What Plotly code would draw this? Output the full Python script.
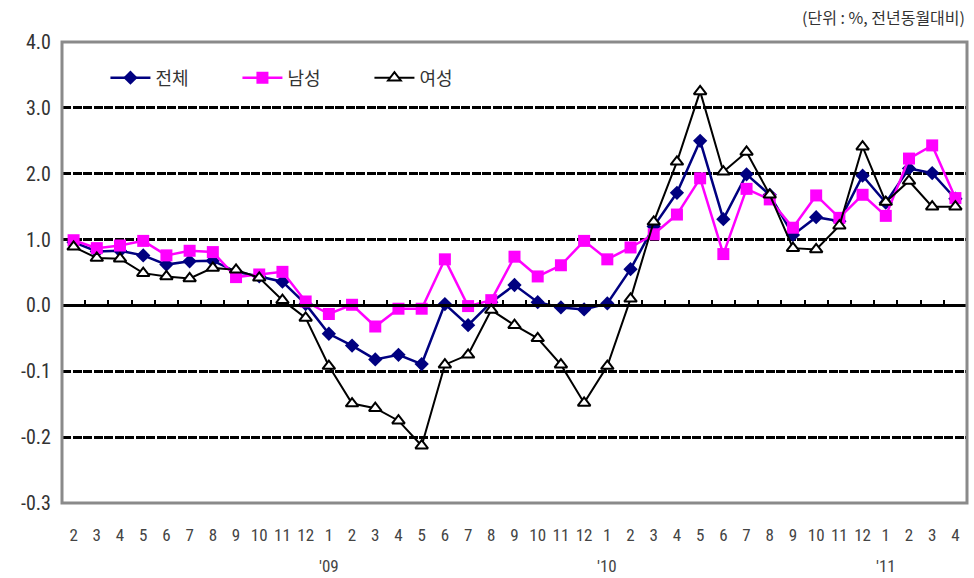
import numpy as np
import plotly.graph_objects as go

# Months from Feb 2008 to Apr 2011
months = ["2", "3", "4", "5", "6", "7", "8", "9", "10", "11", "12",
          "1", "2", "3", "4", "5", "6", "7", "8", "9", "10", "11", "12",
          "1", "2", "3", "4", "5", "6", "7", "8", "9", "10", "11", "12",
          "1", "2", "3", "4"]
year_marks = {11: "'09", 23: "'10", 35: "'11"}

total = [0.96, 0.82, 0.83, 0.76, 0.62, 0.67, 0.68, 0.51, 0.44, 0.36, 0.02,
         -0.43, -0.61, -0.82, -0.75, -0.89, 0.02, -0.30, 0.05, 0.31, 0.05, -0.03, -0.06,
         0.03, 0.55, 1.20, 1.71, 2.50, 1.31, 1.99, 1.68, 1.07, 1.34, 1.28, 1.97,
         1.56, 2.08, 2.01, 1.62]
male = [0.99, 0.87, 0.91, 0.98, 0.76, 0.83, 0.81, 0.43, 0.47, 0.51, 0.06,
        -0.13, 0.01, -0.32, -0.05, -0.05, 0.70, -0.01, 0.08, 0.74, 0.44, 0.61, 0.98,
        0.70, 0.88, 1.08, 1.38, 1.93, 0.78, 1.77, 1.61, 1.18, 1.67, 1.33, 1.68,
        1.36, 2.23, 2.43, 1.63]
female = [0.89, 0.72, 0.71, 0.49, 0.44, 0.41, 0.57, 0.54, 0.42, 0.08, -0.19,
          -0.92, -1.49, -1.56, -1.75, -2.13, -0.90, -0.75, -0.07, -0.30, -0.50, -0.90, -1.48,
          -0.92, 0.10, 1.27, 2.18, 3.25, 2.03, 2.33, 1.68, 0.87, 0.85, 1.21, 2.41,
          1.57, 1.89, 1.50, 1.50]

y_ticks = [-3, -2, -1, 0, 1, 2, 3, 4]
y_tick_text = ["-0.3", "-0.2", "-0.1", "0.0", "1.0", "2.0", "3.0", "4.0"]

x = np.arange(len(months))
xr = [-0.5, len(months) - 0.5]

KR = "Noto Sans CJK KR, Noto Sans, sans-serif"
NUM = "Liberation Sans Narrow, Roboto Condensed, Liberation Sans, sans-serif"

fig = go.Figure()
fig.add_trace(go.Scatter(
    x=x, y=total, name="전체", mode="lines+markers",
    line=dict(color="#000080", width=2.5),
    marker=dict(symbol="diamond", size=11, color="#000080"),
))
fig.add_trace(go.Scatter(
    x=x, y=male, name="남성", mode="lines+markers",
    line=dict(color="#FF00FF", width=2.5),
    marker=dict(symbol="square", size=12, color="#FF00FF"),
))
fig.add_trace(go.Scatter(
    x=x, y=female, name="여성", mode="lines+markers",
    line=dict(color="#000000", width=2),
    marker=dict(symbol="triangle-up", size=11, color="white",
                line=dict(color="#000000", width=2)),
))
# helper trace so the zero-line axis (ticks between months) gets drawn
fig.add_trace(go.Scatter(x=x, y=total, mode="none", xaxis="x2",
                         showlegend=False, hoverinfo="skip"))

annotations = [
    dict(text="(단위 : %, 전년동월대비)", xref="paper", yref="paper",
         x=1.0, y=1.055, xanchor="right", yanchor="middle", showarrow=False,
         font=dict(family=KR, size=16, color="#333333")),
]
for i, lab in year_marks.items():
    annotations.append(dict(text=lab, xref="x", yref="paper", x=i, y=-0.137,
                            xanchor="center", yanchor="middle", showarrow=False,
                            font=dict(family=NUM, size=17, color="#444444")))

fig.update_layout(
    width=974, height=578,
    margin=dict(l=62, r=7, t=42, b=75),
    paper_bgcolor="white", plot_bgcolor="white",
    showlegend=True,
    legend=dict(orientation="h", x=0.048, y=0.922, xanchor="left", yanchor="middle",
                bgcolor="rgba(0,0,0,0)", font=dict(family=KR, size=18, color="#333333"),
                entrywidth=77, entrywidthmode="pixels", itemwidth=40),
    xaxis=dict(range=xr, tickmode="array", tickvals=x, ticktext=months,
               showgrid=False, zeroline=False, showline=False, ticks="",
               ticklabelstandoff=20,
               tickfont=dict(family=NUM, size=17, color="#444444")),
    xaxis2=dict(range=xr, overlaying="x", anchor="free", position=3 / 7,
                side="bottom", showline=True, linecolor="black", linewidth=2.5,
                ticks="inside", ticklen=5, tickwidth=2, tickcolor="black",
                tickmode="array", tickvals=x[:-1] + 0.5, showticklabels=False,
                showgrid=False, zeroline=False),
    yaxis=dict(range=[-3, 4], tickmode="array", tickvals=y_ticks, ticktext=y_tick_text,
               showgrid=True, gridcolor="black", gridwidth=3, griddash="9px,1.5px",
               zeroline=False, showline=False, ticks="", ticklabelstandoff=10,
               tickfont=dict(family=NUM, size=20, color="#333333")),
    annotations=annotations,
    shapes=[dict(type="rect", xref="paper", yref="paper", x0=0, x1=1, y0=0, y1=1,
                 line=dict(color="#8a8a8a", width=3), layer="above")],
)

fig.write_html("out.html")
